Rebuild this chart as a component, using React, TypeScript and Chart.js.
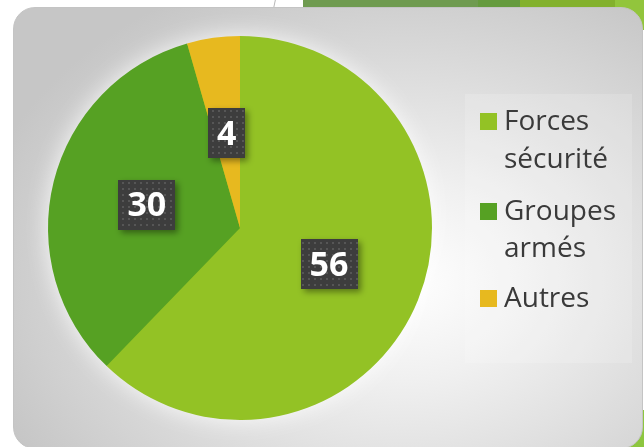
import React, { useEffect, useRef } from "react";
import { Chart, registerables } from "chart.js";

Chart.register(...registerables);

const categories = ["Forces sécurité", "Groupes armés", "Autres"];
const values = [56, 30, 4];
const colors = ["#93c225", "#56a123", "#e7b91f"];

export default function App() {
  const ref = useRef<HTMLCanvasElement>(null);

  useEffect(() => {
    const canvas = ref.current!;
    const pc = document.createElement("canvas");
    pc.width = 6;
    pc.height = 6;
    const p = pc.getContext("2d")!;
    p.fillStyle = "#3d3d3d";
    p.fillRect(0, 0, 6, 6);
    p.fillStyle = "#565656";
    p.fillRect(2, 2, 2, 2);

    const glow = {
      id: "glow",
      beforeDatasetsDraw(chart: any) {
        const ctx = chart.ctx;
        const arc = chart.getDatasetMeta(0).data[0];
        if (!arc) return;
        const { x, y, outerRadius } = arc.getProps(["x", "y", "outerRadius"], true);
        ctx.save();
        ctx.shadowColor = "rgba(255,255,255,0.9)";
        ctx.shadowBlur = 24;
        ctx.fillStyle = colors[0];
        ctx.beginPath();
        ctx.arc(x, y, outerRadius - 1, 0, Math.PI * 2);
        ctx.fill();
        ctx.restore();
      },
    };

    const labels = {
      id: "boxLabels",
      afterDatasetsDraw(chart: any) {
        const ctx = chart.ctx;
        const meta = chart.getDatasetMeta(0);
        const pattern = ctx.createPattern(pc, "repeat");
        meta.data.forEach((arc: any, i: number) => {
          const { x, y, startAngle, endAngle, outerRadius } = arc.getProps(
            ["x", "y", "startAngle", "endAngle", "outerRadius"],
            true
          );
          const mid = (startAngle + endAngle) / 2;
          const r = outerRadius * 0.5;
          const cx = x + Math.cos(mid) * r;
          const cy = y + Math.sin(mid) * r;
          const text = String(chart.data.datasets[0].data[i]);
          ctx.save();
          ctx.font = "bold 34px 'Open Sans'";
          const w = ctx.measureText(text).width + 18;
          const h = 50;
          ctx.shadowColor = "rgba(0,0,0,0.4)";
          ctx.shadowBlur = 6;
          ctx.shadowOffsetX = 3;
          ctx.shadowOffsetY = 3;
          ctx.fillStyle = pattern;
          ctx.fillRect(Math.round(cx - w / 2), Math.round(cy - h / 2), Math.round(w), h);
          ctx.shadowColor = "transparent";
          ctx.fillStyle = "#ffffff";
          ctx.textAlign = "center";
          ctx.textBaseline = "middle";
          ctx.fillText(text, cx, cy + 2);
          ctx.restore();
        });
      },
    };

    const legend = {
      id: "customLegend",
      afterDraw(chart: any) {
        const ctx = chart.ctx;
        const area = chart.chartArea;
        const left = area.right + 33;
        ctx.save();
        ctx.fillStyle = "rgba(255,255,255,0.16)";
        ctx.fillRect(left, 94, 167, 269);
        const baselines = [[130, 168], [220, 257], [307]];
        ctx.font = "28px 'Open Sans'";
        ctx.textBaseline = "alphabetic";
        ctx.textAlign = "left";
        chart.data.labels.forEach((lab: string, i: number) => {
          const words = lab.split(" ");
          const bl = baselines[i];
          ctx.fillStyle = chart.data.datasets[0].backgroundColor[i];
          ctx.fillRect(left + 15, bl[0] - 17, 17, 17);
          ctx.fillStyle = "#3a3a3a";
          words.forEach((wd, j) => {
            ctx.fillText(wd, left + 39, bl[j]);
          });
        });
        ctx.restore();
      },
    };

    const chart = new Chart(canvas, {
      type: "pie",
      data: {
        labels: categories,
        datasets: [
          {
            data: values,
            backgroundColor: colors,
            borderWidth: 0,
          },
        ],
      },
      options: {
        animation: false,
        responsive: false,
        events: [],
        layout: { padding: { left: 48, top: 36, right: 212, bottom: 27 } },
        plugins: {
          legend: { display: false },
          tooltip: { enabled: false },
        },
      },
      plugins: [glow, labels, legend],
    });
    return () => chart.destroy();
  }, []);

  return (
    <div
      style={{
        position: "fixed",
        left: 0,
        top: 0,
        width: 644,
        height: 447,
        background: "#ffffff",
        overflow: "hidden",
      }}
    >
      <div style={{ position: "absolute", left: 274, top: 0, width: 1, height: 8, background: "#b8b8b8", transform: "skewX(-12deg)" }} />
      <div style={{ position: "absolute", left: 303, top: 0, width: 176, height: 10, background: "#6f9b50" }} />
      <div style={{ position: "absolute", left: 478, top: 0, width: 43, height: 10, background: "#659b3e" }} />
      <div style={{ position: "absolute", left: 520, top: 0, width: 96, height: 20, background: "#83b12d" }} />
      <div style={{ position: "absolute", left: 615, top: 0, width: 29, height: 30, background: "#92c53c" }} />
      <div style={{ position: "absolute", left: 615, top: 410, width: 29, height: 37, background: "#8dc63f" }} />
      <div
        style={{
          position: "absolute",
          left: 13,
          top: 7,
          width: 628,
          height: 440,
          borderRadius: 22,
          border: "1px solid #c4c4c4",
          background:
            "radial-gradient(ellipse 70% 75% at 62% 62%, #ffffff 0%, #f0f0f0 30%, #dedede 60%, #c6c6c6 100%)",
        }}
      />
      <canvas
        ref={ref}
        width={644}
        height={447}
        style={{ position: "absolute", left: 0, top: 0, width: 644, height: 447 }}
      />
    </div>
  );
}
